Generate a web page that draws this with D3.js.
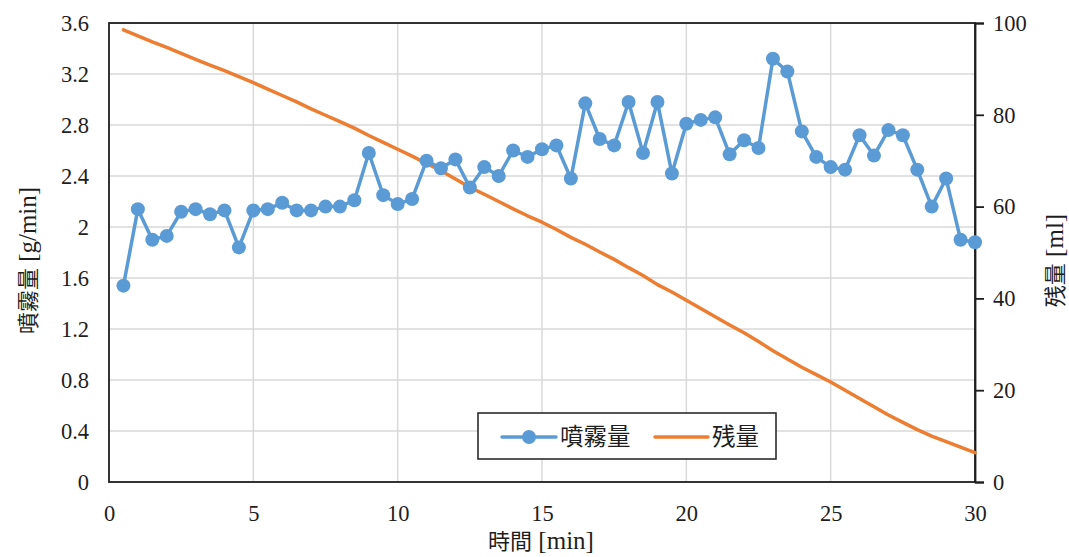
<!DOCTYPE html>
<html>
<head>
<meta charset="utf-8">
<script src="https://cdn.jsdelivr.net/npm/d3@7"></script>
<style>
  html, body { margin: 0; padding: 0; background: #fff; }
  svg { display: block; }
</style>
</head>
<body>
<svg id="chart" width="1069" height="557"></svg>
<script>
// Time axis (minutes), sampled every 0.5 min
const times = [0.5,1,1.5,2,2.5,3,3.5,4,4.5,5,5.5,6,6.5,7,7.5,8,8.5,9,9.5,10,
  10.5,11,11.5,12,12.5,13,13.5,14,14.5,15,15.5,16,16.5,17,17.5,18,18.5,19,19.5,20,
  20.5,21,21.5,22,22.5,23,23.5,24,24.5,25,25.5,26,26.5,27,27.5,28,28.5,29,29.5,30];

// Spray rate [g/min]
const sprayRate = [1.54,2.14,1.90,1.93,2.12,2.14,2.10,2.13,1.84,2.13,2.14,2.19,2.13,2.13,2.16,2.16,2.21,2.58,2.25,2.18,
  2.22,2.52,2.46,2.53,2.31,2.47,2.40,2.60,2.55,2.61,2.64,2.38,2.97,2.69,2.64,2.98,2.58,2.98,2.42,2.81,
  2.84,2.86,2.57,2.68,2.62,3.32,3.22,2.75,2.55,2.47,2.45,2.72,2.56,2.76,2.72,2.45,2.16,2.38,1.90,1.88];

// Remaining volume [ml]
const remaining = [98.5,97.2,95.9,94.7,93.4,92.1,90.8,89.6,88.3,87.0,85.6,84.2,82.8,81.3,79.9,78.5,77.1,75.5,74.0,72.5,
  71.0,69.4,67.8,66.0,64.2,62.7,61.1,59.5,58.0,56.6,55.0,53.3,51.8,50.1,48.5,46.7,45.0,43.0,41.4,39.6,
  37.8,36.0,34.2,32.5,30.6,28.6,26.8,25.0,23.4,21.8,20.0,18.2,16.4,14.6,13.0,11.4,10.0,8.8,7.6,6.4];

const xTicks = [0,5,10,15,20,25,30];
const yLeftTicks = [0,0.4,0.8,1.2,1.6,2,2.4,2.8,3.2,3.6];
const yRightTicks = [0,20,40,60,80,100];

const seriesNames = ["噴霧量", "残量"];
// Axis titles: [Japanese label, unit]
const xTitle = ["時間", " [min]"];
const yLeftTitle = ["噴霧量", " [g/min]"];
const yRightTitle = ["残量", " [ml]"];

const blue = "#5b9bd5", orange = "#ed7d31", grid = "#d9d9d9", ink = "#1e1e1e";
const SERIF = "'Liberation Serif', 'Noto Sans CJK JP', serif";
const CJK = "'Noto Sans CJK JP', 'Liberation Serif', sans-serif";

const svg = d3.select("#chart");
const L = 109, R = 975, T = 23, B = 482;

const x = d3.scaleLinear().domain([0, 30]).range([L, R]);
const yL = d3.scaleLinear().domain([0, 3.6]).range([B, T]);
const yR = d3.scaleLinear().domain([0, 100]).range([B, T]);

// Gridlines
svg.append("g").selectAll("line").data(yLeftTicks.slice(1)).join("line")
  .attr("x1", L).attr("x2", R)
  .attr("y1", d => yL(d)).attr("y2", d => yL(d))
  .attr("stroke", grid).attr("stroke-width", 1.5);
svg.append("g").selectAll("line").data(xTicks.slice(1, -1)).join("line")
  .attr("x1", d => x(d)).attr("x2", d => x(d))
  .attr("y1", T).attr("y2", B)
  .attr("stroke", grid).attr("stroke-width", 1.5);

// Plot frame
svg.append("rect").attr("x", L).attr("y", T).attr("width", R - L).attr("height", B - T)
  .attr("fill", "none").attr("stroke", ink).attr("stroke-width", 1.8);

const fmt = d => String(+d.toFixed(1));
const tickText = sel => sel.style("font-family", SERIF).style("font-size", "22.5px").attr("fill", ink);

// Left axis
const gL = svg.append("g").attr("transform", `translate(${L},0)`)
  .call(d3.axisLeft(yL).tickValues(yLeftTicks).tickSize(0).tickPadding(20).tickFormat(fmt));
gL.select(".domain").remove();
gL.selectAll("text").call(tickText);

// Right axis
const gR = svg.append("g").attr("transform", `translate(${R},0)`)
  .call(d3.axisRight(yR).tickValues(yRightTicks).tickSize(9).tickPadding(9).tickFormat(d3.format("d")));
gR.select(".domain").attr("stroke", ink).attr("stroke-width", 1.8);
gR.selectAll(".tick line").attr("stroke", ink).attr("stroke-width", 1.8);
gR.selectAll("text").call(tickText);

// Bottom axis
const gB = svg.append("g").attr("transform", `translate(0,${B})`)
  .call(d3.axisBottom(x).tickValues(xTicks).tickSize(0).tickPadding(23).tickFormat(d3.format("d")));
gB.select(".domain").remove();
gB.selectAll("text").call(tickText);

// Axis titles: Japanese part plus a larger serif unit
function title(sel, parts) {
  sel.attr("text-anchor", "middle").attr("fill", ink);
  sel.append("tspan").style("font-family", CJK).style("font-size", "22px").text(parts[0]);
  sel.append("tspan").style("font-family", SERIF).style("font-size", "25px").text(parts[1]);
}
svg.append("text").attr("x", (L + R) / 2 - 1).attr("y", 549).call(title, xTitle);
svg.append("text").attr("transform", `translate(36,${(T + B) / 2 + 8}) rotate(-90)`).call(title, yLeftTitle);
svg.append("text").attr("transform", `translate(1063,${(T + B) / 2 + 8}) rotate(-90)`).call(title, yRightTitle);

// Remaining volume line
svg.append("path").datum(times.map((t, i) => [t, remaining[i]]))
  .attr("fill", "none").attr("stroke", orange).attr("stroke-width", 3.5)
  .attr("stroke-linejoin", "round").attr("stroke-linecap", "round")
  .attr("d", d3.line().x(d => x(d[0])).y(d => yR(d[1])));

// Spray rate line with markers
const rate = times.map((t, i) => [t, sprayRate[i]]);
svg.append("path").datum(rate)
  .attr("fill", "none").attr("stroke", blue).attr("stroke-width", 3.5)
  .attr("stroke-linejoin", "round")
  .attr("d", d3.line().x(d => x(d[0])).y(d => yL(d[1])));
svg.append("g").selectAll("circle").data(rate).join("circle")
  .attr("cx", d => x(d[0])).attr("cy", d => yL(d[1])).attr("r", 7)
  .attr("fill", blue);

// Legend
const lg = svg.append("g");
lg.append("rect").attr("x", 478).attr("y", 413).attr("width", 298).attr("height", 46)
  .attr("fill", "#fff").attr("stroke", ink).attr("stroke-width", 1.5);
lg.append("line").attr("x1", 502).attr("x2", 556).attr("y1", 437).attr("y2", 437)
  .attr("stroke", blue).attr("stroke-width", 3.5).attr("stroke-linecap", "round");
lg.append("circle").attr("cx", 529).attr("cy", 437).attr("r", 7).attr("fill", blue);
lg.append("text").attr("x", 560).attr("y", 445)
  .style("font-family", CJK).style("font-size", "23.5px").attr("fill", ink).text(seriesNames[0]);
lg.append("line").attr("x1", 655).attr("x2", 708).attr("y1", 437).attr("y2", 437)
  .attr("stroke", orange).attr("stroke-width", 3.5).attr("stroke-linecap", "round");
lg.append("text").attr("x", 712).attr("y", 445)
  .style("font-family", CJK).style("font-size", "23.5px").attr("fill", ink).text(seriesNames[1]);
</script>
</body>
</html>
